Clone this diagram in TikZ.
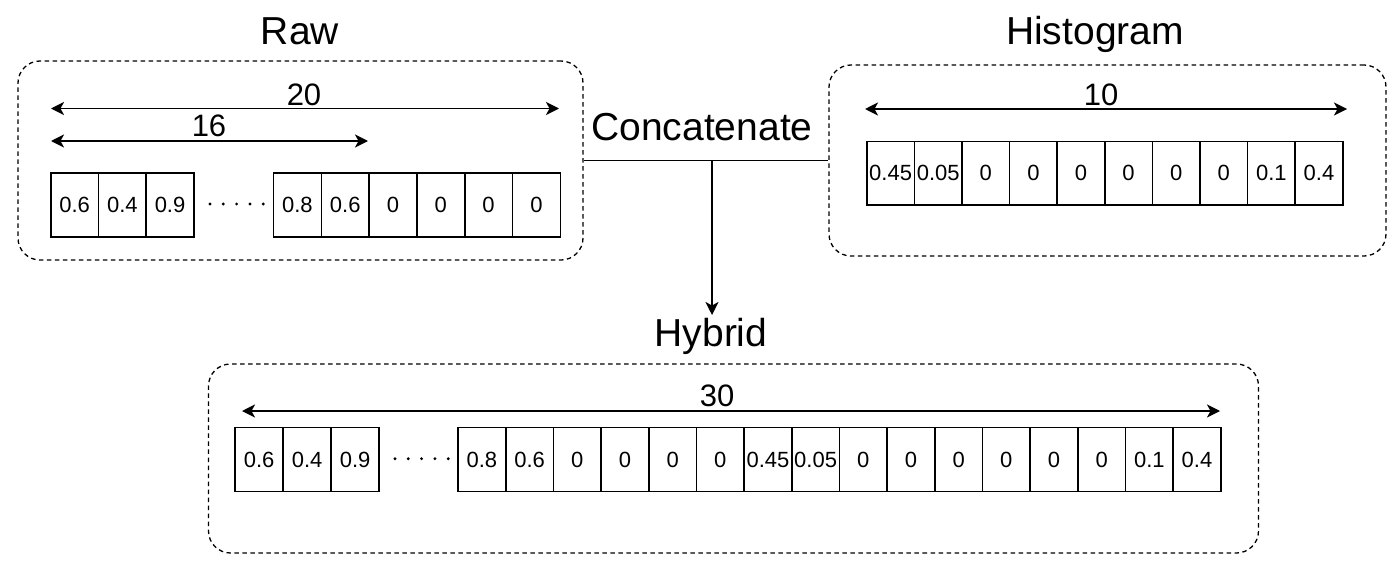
\documentclass[tikz,border=0pt]{standalone}
\usepackage{fontspec}
\setmainfont{Liberation Sans}
\usetikzlibrary{arrows.meta}
\begin{document}
\begin{tikzpicture}[x=1pt,y=-1pt,
  grp/.style={draw, line width=1.3pt, dash pattern=on 4.5pt off 3.5pt, rounded corners=22pt, inner sep=0pt},
  cellbox/.style={draw, line width=1.6pt, inner sep=0pt, minimum height=63.7pt, anchor=north west, font=\fontsize{22}{26}\selectfont},
  ttl/.style={anchor=base, inner sep=0pt, font=\fontsize{39}{46}\selectfont},
  lbl/.style={anchor=base, inner sep=0pt, font=\fontsize{31}{37}\selectfont},
  tipa/.tip={Stealth[length=13pt,width=13pt,inset=3.5pt]},
  dim/.style={line width=1.8pt, tipa-tipa},
  conn/.style={line width=1.8pt},
  dotmark/.style={fill=black, draw=none}
]
\useasboundingbox (0,0) rectangle (1397,562);

% group boxes
\node[grp, minimum width=565pt, minimum height=199pt] (rawbox) at (300.5,160.5) {};
\node[grp, minimum width=557pt, minimum height=191pt] (histbox) at (1107.5,160.5) {};
\node[grp, minimum width=1050pt, minimum height=189pt] (hybbox) at (733.5,458.5) {};

% titles
\node[ttl] (rawtitle) at (300,44.3) {Raw};
\node[ttl] (histtitle) at (1095,44.3) {Histogram};
\node[ttl] (concat) at (702,140) {Concatenate};
\node[ttl] (hybtitle) at (711,346.7) {Hybrid};

% raw cells
\foreach \v [count=\i] in {0.6,0.4,0.9}
  \node[cellbox, minimum width=47.7pt] (r\i) at ({50+47.7*(\i-1)},172.3) {\v};
\foreach \v [count=\i from 4] in {0.8,0.6,0,0,0,0}
  \node[cellbox, minimum width=47.8pt] (r\i) at ({272.7+47.8*(\i-4)},172.3) {\v};
\foreach \k in {0,...,4}
  \fill[dotmark] ({210+13.3*\k},204) circle (1.6pt);

% raw dimension arrows
\coordinate (ra1) at (51,108.5);
\coordinate (ra2) at (559,108.5);
\coordinate (rb1) at (51,141);
\coordinate (rb2) at (368,141);
\draw[dim] (ra1) -- (ra2);
\draw[dim] (rb1) -- (rb2);
\node[lbl] (l20) at (304,105) {20};
\node[lbl] (l16) at (209,136.7) {16};

% histogram cells
\foreach \v [count=\i] in {0.45,0.05,0,0,0,0,0,0,0.1,0.4}
  \node[cellbox, minimum width=47.6pt] (h\i) at ({866+47.6*(\i-1)},140.7) {\v};
\coordinate (ha1) at (865,109);
\coordinate (ha2) at (1347,109);
\draw[dim] (ha1) -- (ha2);
\node[lbl] (l10) at (1101,105.5) {10};

% hybrid cells
\foreach \v [count=\i] in {0.6,0.4,0.9}
  \node[cellbox, minimum width=48pt, minimum height=64pt] (y\i) at ({234.3+48*(\i-1)},426.7) {\v};
\foreach \v [count=\i from 4] in {0.8,0.6,0,0,0,0,0.45,0.05,0,0,0,0,0,0,0.1,0.4}
  \node[cellbox, minimum width=47.67pt, minimum height=64pt] (y\i) at ({457.3+47.67*(\i-4)},426.7) {\v};
\foreach \k in {0,...,4}
  \fill[dotmark] ({395+13.3*\k},458.7) circle (1.6pt);
\coordinate (ya1) at (242,411);
\coordinate (ya2) at (1220,411);
\draw[dim] (ya1) -- (ya2);
\node[lbl] (l30) at (717,406.7) {30};

% concatenate connectors
\coordinate (j) at (712,160.5);
\coordinate (hybend) at (712,315);
\draw[conn] (rawbox.east) -- (histbox.west);
\draw[conn, -tipa] (j) -- (hybend);
\end{tikzpicture}
\end{document}
